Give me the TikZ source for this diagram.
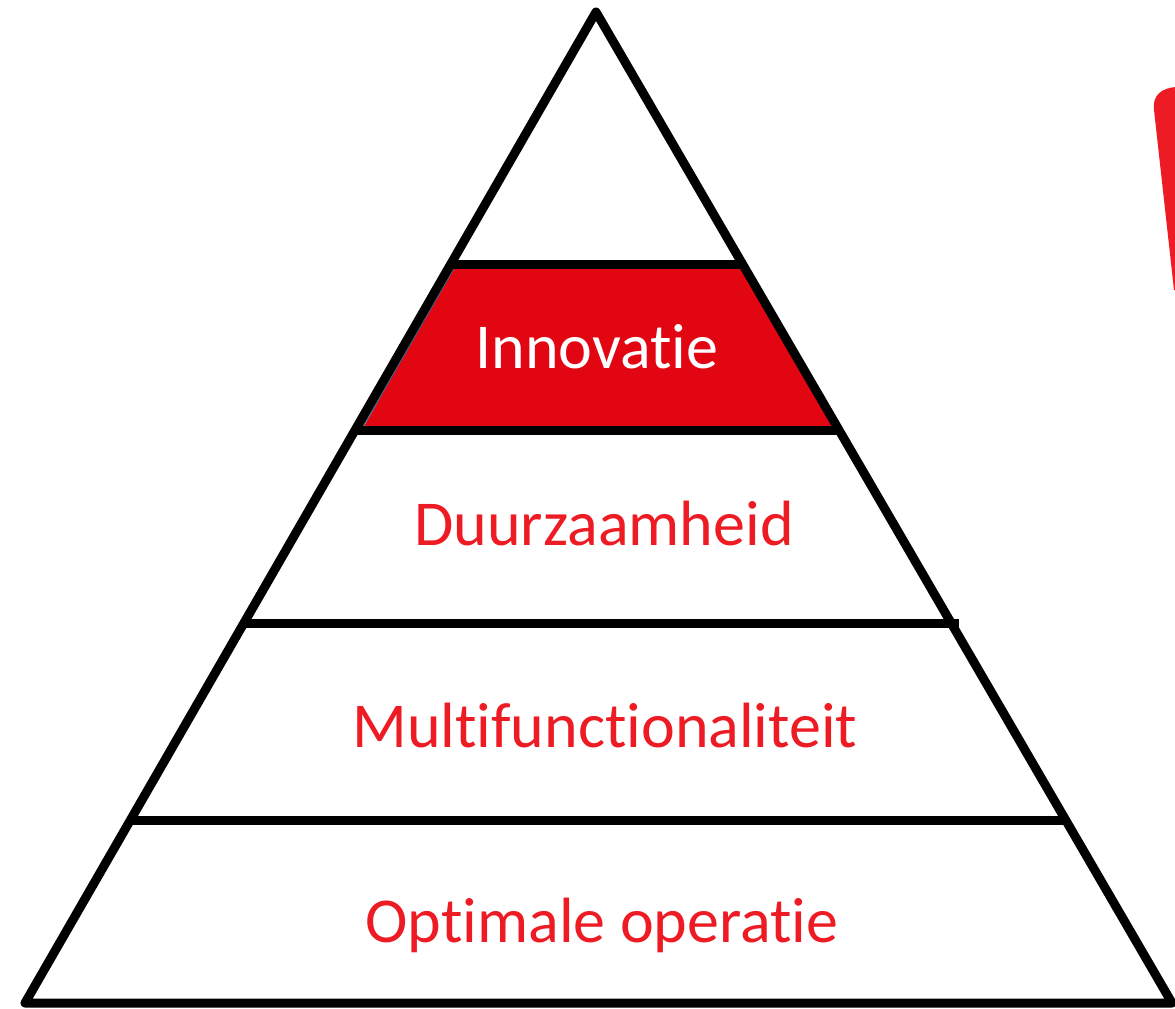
\documentclass[tikz,border=0pt]{standalone}
\usepackage{fontspec}
\setmainfont[Ligatures={NoCommon,NoRare}]{Carlito}
\definecolor{lvlred}{HTML}{ED1C24}
\definecolor{boxred}{HTML}{E20613}
\begin{document}
\begin{tikzpicture}[x=1pt,y=-1pt,
  edge/.style={draw=black,line width=9pt,line join=round},
  bar/.style={draw=black,line width=9pt},
  lvltext/.style={font=\fontsize{64}{70}\selectfont,text=lvlred,anchor=base,inner sep=0pt},
  toptext/.style={font=\fontsize{64}{70}\selectfont,text=white,anchor=base,inner sep=0pt}]
\useasboundingbox (0,0) rectangle (1175,1009);
\clip (0,0) rectangle (1175,1009);
% coordinates
\coordinate (apex) at (596,12);
\coordinate (bl) at (25,1003);
\coordinate (br) at (1172,1003);
% red level
\fill[boxred] (455,264) -- (740,264) -- (834,430) -- (362,430) -- cycle;
\draw[color={rgb,255:red,60;green,100;blue,140},line width=1.5pt] (455,266) -- (362,428);
% triangle
\draw[edge] (apex) -- (bl) -- (br) -- cycle;
% bars
\coordinate (b1l) at (452,264); \coordinate (b1r) at (741,264);
\coordinate (b2l) at (357,430); \coordinate (b2r) at (837,430);
\coordinate (b3l) at (245,623); \coordinate (b3r) at (959,623);
\coordinate (b4l) at (133,820); \coordinate (b4r) at (1067,820);
\draw[bar] (b1l) -- (b1r);
\draw[bar] (b2l) -- (b2r);
\draw[bar] (b3l) -- (b3r);
\draw[bar] (b4l) -- (b4r);
% texts
\node[toptext] (t1) at (597,368) {Innovatie};
\node[lvltext] (t2) at (604,545) {Duurzaamheid};
\node[lvltext] (t3) at (605,747) {Multifunctionaliteit};
\node[lvltext] (t4) at (602,942) {Optimale operatie};
% red spike at the right edge
\fill[lvlred] (1154,110) .. controls (1152,95) and (1162,88) .. (1176,87)
  -- (1176,290) -- (1174,290) -- cycle;
\end{tikzpicture}
\end{document}
